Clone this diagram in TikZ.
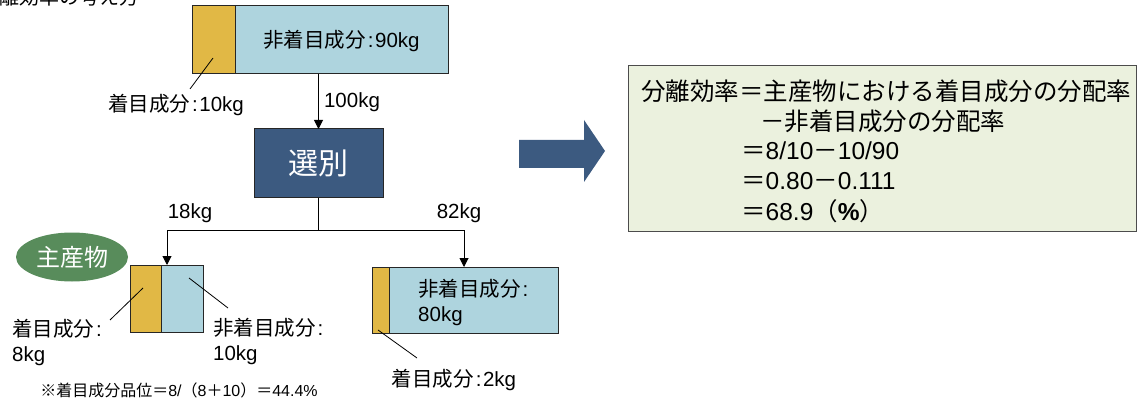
\documentclass[tikz,border=0pt]{standalone}
\usepackage{fontspec}
\setmainfont{Liberation Sans}
\newfontfamily\jp{Noto Sans CJK JP}
\usetikzlibrary{shapes.geometric,arrows.meta}
\definecolor{gold}{HTML}{E1B845}
\definecolor{ltblue}{HTML}{AED4DE}
\definecolor{navy}{HTML}{3C5A80}
\definecolor{leaf}{HTML}{588C5B}
\definecolor{mint}{HTML}{EBF1DE}
\newcommand{\cln}{\hspace{2pt}:\hspace{1.5pt}}
\begin{document}
\begin{tikzpicture}[x=1pt,y=-1pt,
  box/.style={draw=black!85, line width=1pt, inner sep=0pt, outer sep=0pt},
  lbl/.style={font=\fontsize{20.5}{25}\selectfont, inner sep=0pt, align=left},
  frm/.style={font=\fontsize{24.5}{30}\selectfont, inner sep=0pt, anchor=west},
  flow/.style={line width=1pt,-{Triangle[length=9pt,width=9pt]}},
  lead/.style={line width=0.8pt}]
\useasboundingbox (0,0) rectangle (1140,398);
\clip (0,0) rectangle (1140,398);

% title (cut off at the top edge, as in the reference)
\node[font=\fontsize{20}{24}\selectfont\jp, anchor=west, inner sep=0pt] (title) at (-21,-3) {分離効率の考え方};

% feed
\node[box, fill=gold, minimum width=43pt, minimum height=68pt] (a1) at (213.5,40) {};
\node[box, fill=ltblue, minimum width=213pt, minimum height=68pt] (a2) at (341.5,40) {};
\node[lbl] (a2t) at (341.5,41) {{\jp 非着目成分}\cln 90kg};
\coordinate (a1p) at (213,58);
\coordinate (a1q) at (190,89);
\draw[lead] (a1p) -- (a1q);
\node[lbl] (a1l) at (176,105) {{\jp 着目成分}\cln 10kg};

% separation
\node[box, fill=navy, minimum width=129pt, minimum height=69pt, text=white,
      font=\fontsize{30}{34}\selectfont\jp] (sel) at (318.5,163.5) {選別};
\draw[flow] (a2.south -| sel.north) -- (sel.north);
\node[lbl] (f100) at (352,102) {100kg};

% product (left)
\node[box, fill=gold, minimum width=31pt, minimum height=67pt] (c1) at (145.5,298.5) {};
\node[box, fill=ltblue, minimum width=42pt, minimum height=67pt] (c2) at (182,298.5) {};
\node[ellipse, fill=leaf, minimum width=112pt, minimum height=49pt, inner sep=0pt,
      text=white, font=\fontsize{24}{28}\selectfont\jp] (prod) at (72,257) {主産物};

% tailing (right)
\node[box, fill=gold, minimum width=17pt, minimum height=66pt] (d1) at (380.5,300) {};
\node[box, fill=ltblue, minimum width=169pt, minimum height=66pt] (d2) at (473.5,300) {};
\node[lbl, anchor=west] (d2t) at (418,302) {{\jp 非着目成分}\cln\\80kg};

% branch
\coordinate (j) at (318.5,230);
\draw[line width=1pt] (sel.south) -- (j);
\draw[flow] (j) -| ([xshift=6pt]c1.north east);
\draw[flow] (j) -| ([xshift=75pt]d2.north west);
\node[lbl] (f18) at (190,213) {18kg};
\node[lbl] (f82) at (459,213) {82kg};

% leaders and labels (left)
\coordinate (c1p) at (143,288);
\coordinate (c1q) at (110,320);
\draw[lead] (c1p) -- (c1q);
\node[lbl, anchor=west] (c1l) at (12,342) {{\jp 着目成分}\cln\\8kg};
\coordinate (c2p) at (189,278);
\coordinate (c2q) at (228,308);
\draw[lead] (c2p) -- (c2q);
\node[lbl, anchor=west] (c2l) at (213,341) {{\jp 非着目成分}\cln\\10kg};
\node[font=\fontsize{16}{18}\selectfont, inner sep=0pt] (note) at (179,390)
  {{\jp ※着目成分品位＝}8/{\jp （}8{\jp ＋}10{\jp ）＝}44.4\%};

% leader and label (right)
\coordinate (d1p) at (378,330);
\coordinate (d1q) at (417,358);
\draw[lead] (d1p) -- (d1q);
\node[lbl] (d1l) at (454,380) {{\jp 着目成分}\cln 2kg};

% big arrow
\fill[navy] (519,140) -- (584,140) -- (584,120) -- (605,151) -- (584,182) -- (584,168) -- (519,168) -- cycle;

% formula box
\node[draw=black!70, line width=1pt, fill=mint, minimum width=508pt, minimum height=165pt,
      inner sep=0pt] (fbox) at (882,148.5) {};
\node[frm] (f1) at (641,91) {\jp 分離効率＝主産物における着目成分の分配率};
\node[frm] (f2) at (760,121) {\jp －非着目成分の分配率};
\node[frm] (f3) at (741,151) {{\jp ＝}8/10{\jp －}10/90};
\node[frm] (f4) at (741,181) {{\jp ＝}0.80{\jp －}0.111};
\node[frm] (f5) at (741,211) {{\jp ＝}68.9{\jp （}\textbf{\%}{\jp ）}};
\end{tikzpicture}
\end{document}
